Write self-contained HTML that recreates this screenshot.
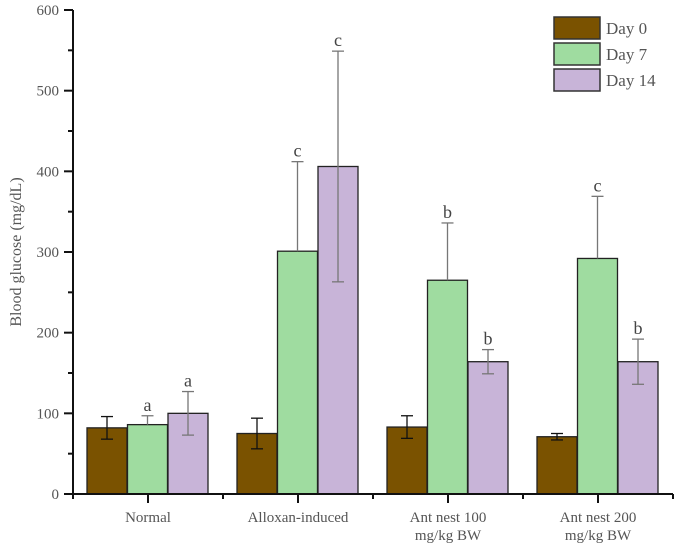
<!DOCTYPE html>
<html><head><meta charset="utf-8"><style>
body{margin:0;background:#fff}
svg{font-family:"Liberation Serif",serif}
</style></head><body>
<svg id="c" width="684" height="555"></svg>
<script>
const categories=[["Normal"],["Alloxan-induced"],["Ant nest 100","mg/kg BW"],["Ant nest 200","mg/kg BW"]];
const seriesNames=["Day 0","Day 7","Day 14"];
const day0=[82,75,83,71];
const day7=[86,301,265,292];
const day14=[100,406,164,164];
const err0=[14,19,14,4];
const err7=[11,111,71,77];
const err14=[27,143,15,28];
const letters7=["a","c","b","c"];
const letters14=["a","c","b","b"];
const yTicks=[0,100,200,300,400,500,600];
const colors=["#7a5200","#9fdca0","#c8b4d8"];
const NS="http://www.w3.org/2000/svg";
const svg=document.getElementById('c');
const x0=73,gw=150,y0=494,ypx=(494-10)/600;
const Y=v=>y0-v*ypx;
const gc=i=>x0+gw*(i+0.5);
function el(t,a,p){const e=document.createElementNS(NS,t);for(const k in a)e.setAttribute(k,a[k]);(p||svg).appendChild(e);return e;}
const series=[day0,day7,day14],errs=[err0,err7,err14],lets=[null,letters7,letters14];
series.forEach((s,si)=>{s.forEach((v,i)=>{
 const bx=gc(i)-61+si*40.5;
 const r=el('rect',{x:bx,y:Y(v),width:40,height:y0-Y(v),fill:colors[si],stroke:'#222','stroke-width':1.3});
 
 
 const cx=bx+20,e=errs[si][i],col=si==0?'#111':'#777';
 const lo=si==1?v:v-e;
 const g=el('g',{stroke:col,'stroke-width':1.3});
 
 
 el('line',{x1:cx,x2:cx,y1:Y(v+e),y2:Y(lo)},g);
 el('line',{x1:cx-6,x2:cx+6,y1:Y(v+e),y2:Y(v+e)},g);
 if(si!=1)el('line',{x1:cx-6,x2:cx+6,y1:Y(v-e),y2:Y(v-e)},g);
 if(lets[si]){const t=el('text',{x:cx,y:Y(v+e)-5,'text-anchor':'middle','font-size':18,fill:'#444'});t.textContent=lets[si][i];
 
 }
});});
const ax=el('g',{stroke:'#111','stroke-width':2});


el('line',{x1:x0,x2:x0,y1:10,y2:y0+1},ax);
el('line',{x1:x0-1,x2:x0+gw*4,y1:y0,y2:y0},ax);
yTicks.forEach(v=>{el('line',{x1:x0-9,x2:x0,y1:Y(v),y2:Y(v)},ax);
 if(v<600)el('line',{x1:x0-5,x2:x0,y1:Y(v+50),y2:Y(v+50)},ax);
 const t=el('text',{x:x0-14,y:Y(v)+5,'text-anchor':'end','font-size':15,fill:'#555',stroke:'none'});t.textContent=v;
 
 });
for(let i=0;i<=4;i++)el('line',{x1:x0+gw*i,x2:x0+gw*i,y1:y0,y2:y0+5},ax);
categories.forEach((c,i)=>{el('line',{x1:gc(i),x2:gc(i),y1:y0,y2:y0+9},ax);
 c.forEach((l,j)=>{const t=el('text',{x:gc(i),y:522+j*18,'text-anchor':'middle','font-size':15,fill:'#555'});t.textContent=l;
 
 });});
const yt=el('text',{x:0,y:0,transform:'translate(21,252) rotate(-90)','text-anchor':'middle','font-size':16,fill:'#555'});
yt.textContent='Blood glucose (mg/dL)';


seriesNames.forEach((n,i)=>{const g=el('g',{});
 
 
 el('rect',{x:554,y:17+i*26,width:46,height:22,fill:colors[i],stroke:'#333','stroke-width':1.5},g);
 const t=el('text',{x:606,y:34+i*26,'font-size':17,fill:'#555'},g);t.textContent=n;});
</script>
</body></html>
